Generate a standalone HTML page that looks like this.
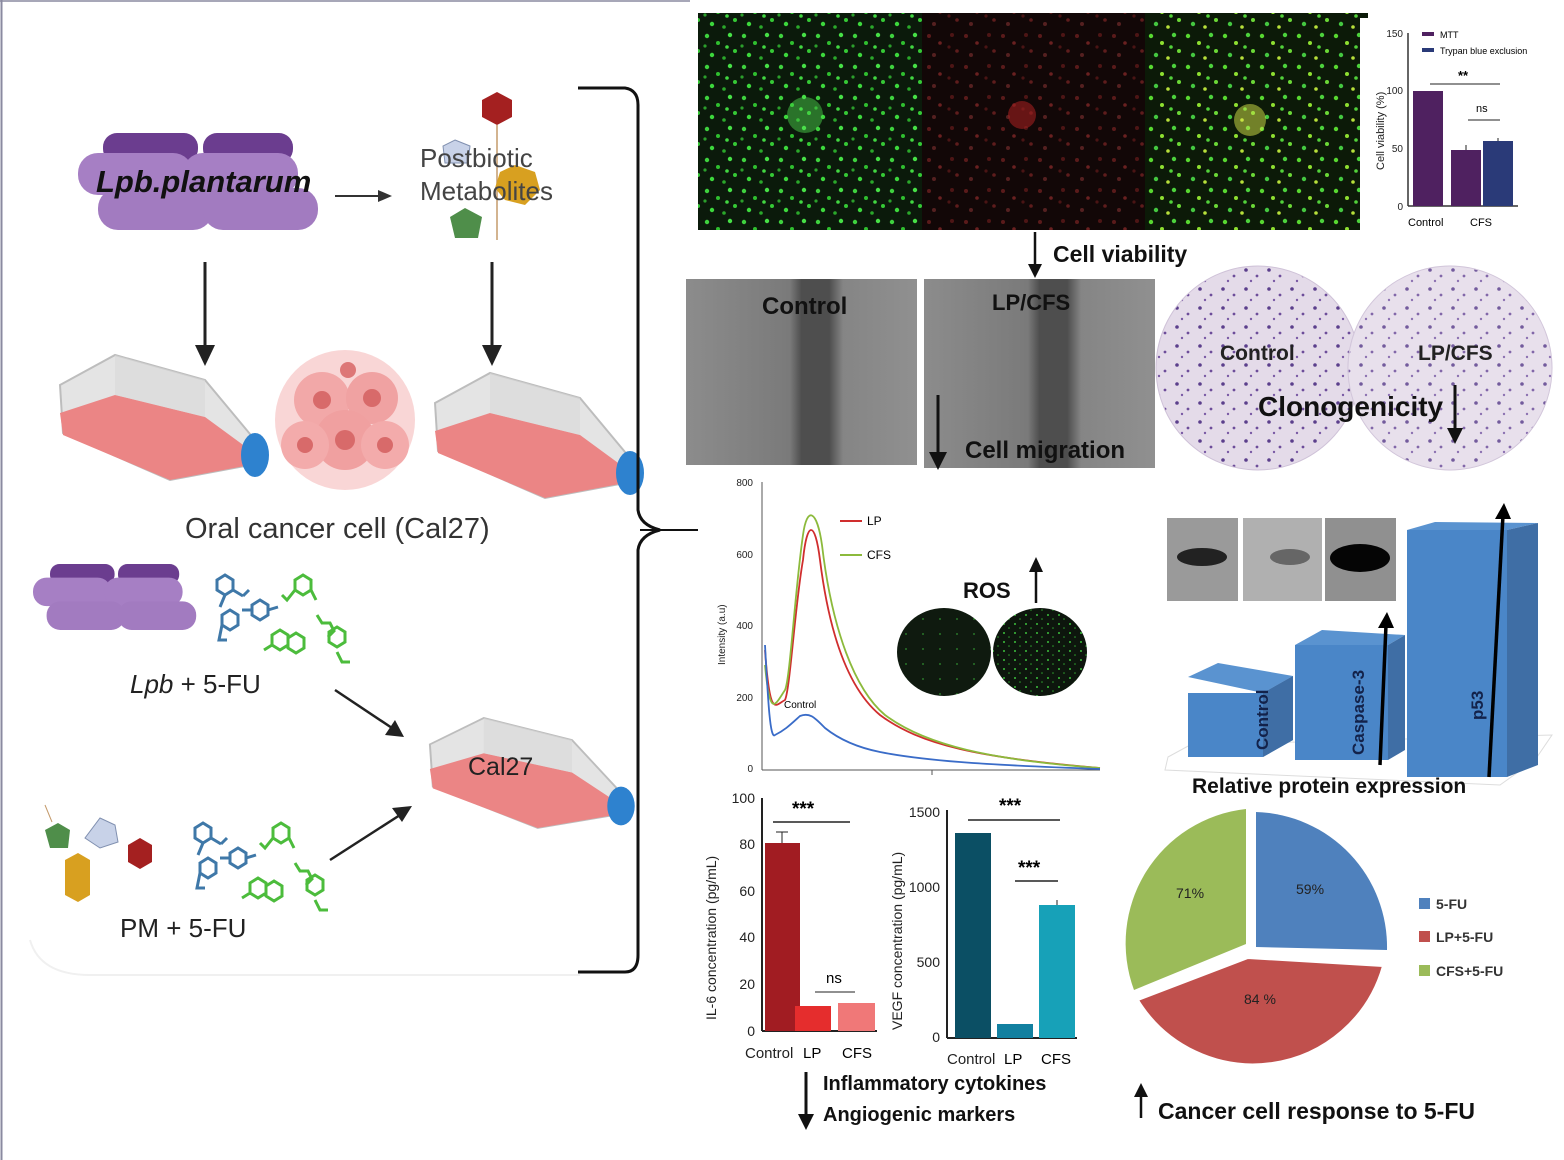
<!DOCTYPE html>
<html><head><meta charset="utf-8"><style>
html,body{margin:0;padding:0;background:#fff}
svg{display:block}
text{font-family:"Liberation Sans",sans-serif}
</style></head><body>
<svg width="1564" height="1160" viewBox="0 0 1564 1160" xmlns="http://www.w3.org/2000/svg">
<defs>
<pattern id="gdots" width="37" height="31" patternUnits="userSpaceOnUse">
<rect width="37" height="31" fill="#0b1a0b"/>
<circle cx="4" cy="5" r="2.2" fill="#3ed23e"/><circle cx="15" cy="12" r="2" fill="#2fbf2f"/><circle cx="27" cy="4" r="2.2" fill="#46e046"/><circle cx="32" cy="20" r="2" fill="#35c935"/><circle cx="9" cy="24" r="2.2" fill="#3cd83c"/><circle cx="21" cy="27" r="1.8" fill="#2aa82a"/><circle cx="24" cy="16" r="1.8" fill="#41d841"/><circle cx="2" cy="15" r="1.6" fill="#2b9f2b"/>
</pattern>
<pattern id="rdots" width="37" height="31" patternUnits="userSpaceOnUse">
<rect width="37" height="31" fill="#120707"/>
<circle cx="4" cy="5" r="2" fill="#5a1a1a"/><circle cx="15" cy="12" r="1.8" fill="#6a2020"/><circle cx="27" cy="4" r="2" fill="#4d1515"/><circle cx="32" cy="20" r="1.8" fill="#5e1c1c"/><circle cx="9" cy="24" r="2" fill="#552020"/><circle cx="24" cy="16" r="1.6" fill="#4a1414"/>
</pattern>
<pattern id="mdots" width="37" height="31" patternUnits="userSpaceOnUse">
<rect width="37" height="31" fill="#0c1a08"/>
<circle cx="4" cy="5" r="2.2" fill="#58d830"/><circle cx="15" cy="12" r="2" fill="#8ee030"/><circle cx="27" cy="4" r="2.2" fill="#4cd23c"/><circle cx="32" cy="20" r="2" fill="#6bd836"/><circle cx="9" cy="24" r="2.2" fill="#44c840"/><circle cx="21" cy="27" r="1.8" fill="#b7e03a"/><circle cx="24" cy="16" r="1.8" fill="#52d23a"/>
</pattern>
<pattern id="cdots" width="23" height="19" patternUnits="userSpaceOnUse">
<rect width="23" height="19" fill="#e4dbe9"/>
<circle cx="4" cy="4" r="1.8" fill="#5b3f8c"/><circle cx="15" cy="10" r="1.4" fill="#6d4d9a"/><circle cx="9" cy="15" r="1.2" fill="#7a5aa5"/>
</pattern>
<pattern id="rosd" width="11" height="9" patternUnits="userSpaceOnUse">
<rect width="11" height="9" fill="#0d160d"/><circle cx="3" cy="3" r="1" fill="#3cbf3c"/><circle cx="8" cy="7" r="0.8" fill="#2e9e2e"/>
</pattern>
<pattern id="rosd2" width="17" height="15" patternUnits="userSpaceOnUse">
<rect width="17" height="15" fill="#0f1a0f"/><circle cx="5" cy="4" r="0.9" fill="#2f8f2f"/>
</pattern>
<linearGradient id="wh" x1="0" x2="1"><stop offset="0" stop-color="#8c8c8c"/><stop offset="0.45" stop-color="#7a7a7a"/><stop offset="0.5" stop-color="#4e4e4e"/><stop offset="0.62" stop-color="#4e4e4e"/><stop offset="0.68" stop-color="#858585"/><stop offset="1" stop-color="#909090"/></linearGradient>
<g id="flask">
<polygon points="5,30 60,0 150,25 200,85 195,110 115,125 8,78" fill="#e4e4e4" stroke="#bdbdbd" stroke-width="2"/>
<polygon points="5,58 60,40 150,62 195,95 195,110 115,125 8,80" fill="#eb8585"/>
<polygon points="60,0 150,25 150,62 60,40" fill="#d8d8d8" opacity="0.6"/>
<ellipse cx="200" cy="100" rx="14" ry="22" fill="#2e82cf"/>
</g>
<g id="bact">
<rect x="25" y="0" width="95" height="30" rx="14" fill="#6b3d8f"/>
<rect x="125" y="0" width="90" height="30" rx="14" fill="#6b3d8f"/>
<rect x="0" y="20" width="115" height="42" rx="20" fill="#a67fc4"/>
<rect x="105" y="20" width="115" height="42" rx="20" fill="#a67fc4"/>
<rect x="20" y="55" width="115" height="42" rx="20" fill="#a27bc0"/>
<rect x="125" y="55" width="115" height="42" rx="20" fill="#a27bc0"/>
</g>
<g id="mols" fill="none" stroke-width="3">
<path d="M0,10 l8,-5 8,5 0,10 -8,5 -8,-5z M16,20 l10,6 M8,25 l-5,12 M26,26 l6,-6" stroke="#3f78a8"/>
<path d="M35,35 l8,-5 8,5 0,10 -8,5 -8,-5z M51,40 l10,-3 M25,40 l10,0" stroke="#3f78a8"/>
<path d="M5,45 l8,-5 8,5 0,10 -8,5 -8,-5z M5,55 l-3,15 l8,0" stroke="#3f78a8"/>
<path d="M78,10 l8,-5 8,5 0,10 -8,5 -8,-5z M78,20 l-8,10 -5,-5 M94,20 l5,10" stroke="#4cbc3c"/>
<path d="M55,65 l8,-5 8,5 0,10 -8,5 -8,-5z M71,68 l8,-5 8,5 0,10 -8,5 -8,-5z M55,75 l-8,5" stroke="#4cbc3c"/>
<path d="M100,45 l5,8 8,0 4,8 -6,6 M112,62 l8,-5 8,5 0,10 -8,5 -8,-5z M120,82 l5,10 8,0" stroke="#4cbc3c"/>
</g>
</defs>

<rect width="1564" height="1160" fill="#fff"/>
<!-- left border frame -->
<line x1="1.5" y1="0" x2="1.5" y2="1160" stroke="#8a8aa0" stroke-width="2"/>
<line x1="0" y1="1" x2="690" y2="1" stroke="#8a8aa0" stroke-width="1.5"/>
<path d="M30,940 Q40,975 90,975 L580,975" fill="none" stroke="#f0f0f0" stroke-width="2"/>

<!-- LEFT PANEL -->
<use href="#bact" transform="translate(78,133)"/>
<text x="96" y="192" font-size="31" font-style="italic" fill="#111" font-weight="bold">Lpb.plantarum</text>
<line x1="335" y1="196" x2="378" y2="196" stroke="#333" stroke-width="2"/>
<polygon points="392,196 378,190 378,202" fill="#333"/>
<!-- postbiotic shapes -->
<polygon points="497,92 512,100 512,117 497,125 482,117 482,100" fill="#a42020"/>
<line x1="497" y1="125" x2="497" y2="240" stroke="#c49a6a" stroke-width="1.5"/>
<polygon points="455,140 470,146 468,163 445,163 443,146" fill="#c8d2e8" stroke="#8090b0"/>
<polygon points="500,172 515,165 535,172 540,190 525,205 505,200 495,188" fill="#d8a020"/>
<polygon points="465,208 482,217 478,238 455,238 450,217" fill="#4f8e4a"/>
<text x="420" y="167" font-size="26" fill="#444">Postbiotic</text>
<text x="420" y="200" font-size="26" fill="#444">Metabolites</text>
<!-- down arrows -->
<line x1="205" y1="262" x2="205" y2="348" stroke="#222" stroke-width="3"/>
<polygon points="205,366 195,345 215,345" fill="#222"/>
<line x1="492" y1="262" x2="492" y2="348" stroke="#222" stroke-width="3"/>
<polygon points="492,366 482,345 502,345" fill="#222"/>
<use href="#flask" transform="translate(55,355)"/>
<use href="#flask" transform="translate(430,373)"/>
<!-- tumor cluster -->
<g>
<circle cx="345" cy="420" r="70" fill="#f6c4c4" opacity="0.7"/>
<circle cx="322" cy="400" r="28" fill="#f2a8a8"/><circle cx="372" cy="398" r="26" fill="#f0a2a2"/>
<circle cx="345" cy="440" r="30" fill="#f0a0a0"/><circle cx="305" cy="445" r="24" fill="#f3abab"/><circle cx="385" cy="445" r="24" fill="#f3abab"/>
<circle cx="322" cy="400" r="9" fill="#d86a6a"/><circle cx="372" cy="398" r="9" fill="#d86a6a"/><circle cx="345" cy="440" r="10" fill="#d86a6a"/><circle cx="305" cy="445" r="8" fill="#d86a6a"/><circle cx="385" cy="445" r="8" fill="#d86a6a"/><circle cx="348" cy="370" r="8" fill="#dd7777"/>
</g>
<text x="185" y="538" font-size="29" fill="#333">Oral cancer cell (Cal27)</text>
<!-- Lpb + 5FU -->
<g transform="translate(33,564) scale(0.68)"><use href="#bact"/></g>
<use href="#mols" transform="translate(217,570)"/>
<text x="130" y="693" font-size="26" fill="#222"><tspan font-style="italic">Lpb</tspan> + 5-FU</text>
<line x1="335" y1="690" x2="392" y2="728" stroke="#222" stroke-width="2.5"/>
<polygon points="404,737 385,735 395,720" fill="#222"/>
<use href="#flask" transform="translate(425,718) scale(0.98,0.88)"/>
<text x="468" y="775" font-size="25" fill="#222">Cal27</text>
<!-- PM + 5FU -->
<polygon points="45,830 58,823 70,830 68,848 50,848" fill="#4f8e4a"/>
<line x1="52" y1="822" x2="45" y2="805" stroke="#c49a6a"/>
<polygon points="65,860 78,853 90,860 90,877 78,884 65,877" fill="#d8a020"/>
<polygon points="65,877 78,870 90,877 90,895 78,902 65,895" fill="#d8a020"/>
<polygon points="100,818 115,825 118,842 100,848 85,838" fill="#c8d2e8" stroke="#8090b0"/>
<polygon points="128,845 140,838 152,845 152,862 140,869 128,862" fill="#a42020"/>
<use href="#mols" transform="translate(195,818)"/>
<text x="120" y="937" font-size="26" fill="#222">PM + 5-FU</text>
<line x1="330" y1="860" x2="400" y2="815" stroke="#222" stroke-width="2.5"/>
<polygon points="412,806 402,822 392,808" fill="#222"/>
<!-- bracket -->
<path d="M578,88 L625,88 Q638,90 638,105 L638,510 Q640,525 660,530 Q640,535 638,550 L638,955 Q638,972 625,972 L578,972" fill="none" stroke="#111" stroke-width="3"/>
<line x1="640" y1="530" x2="698" y2="530" stroke="#111" stroke-width="2"/>

<!-- MICROGRAPHS -->
<rect x="698" y="13" width="224" height="217" fill="url(#gdots)"/>
<rect x="922" y="13" width="223" height="217" fill="url(#rdots)"/>
<rect x="1145" y="13" width="223" height="217" fill="url(#mdots)"/>
<circle cx="805" cy="115" r="18" fill="#4fe04f" opacity="0.45"/>
<circle cx="1022" cy="115" r="14" fill="#a02020" opacity="0.6"/>
<circle cx="1250" cy="120" r="16" fill="#d8e84a" opacity="0.5"/>
<!-- viability chart -->
<rect x="1360" y="18" width="195" height="225" fill="#fff"/>
<line x1="1408" y1="33" x2="1408" y2="206" stroke="#333" stroke-width="1.5"/>
<line x1="1408" y1="206" x2="1518" y2="206" stroke="#333" stroke-width="1.5"/>
<g font-size="10" fill="#222" text-anchor="end"><text x="1403" y="37">150</text><text x="1403" y="94">100</text><text x="1403" y="152">50</text><text x="1403" y="210">0</text></g>
<text transform="translate(1384,170) rotate(-90)" font-size="11" fill="#222">Cell viability (%)</text>
<rect x="1413" y="91" width="30" height="115" fill="#4f2160"/>
<rect x="1451" y="150" width="30" height="56" fill="#4f2160"/>
<rect x="1483" y="141" width="30" height="65" fill="#2a3a78"/>
<line x1="1466" y1="150" x2="1466" y2="145" stroke="#222"/><line x1="1498" y1="141" x2="1498" y2="138" stroke="#222"/>
<line x1="1430" y1="84" x2="1500" y2="84" stroke="#222"/><text x="1458" y="80" font-size="13" font-weight="bold">**</text>
<line x1="1468" y1="120" x2="1500" y2="120" stroke="#222"/><text x="1476" y="112" font-size="11">ns</text>
<rect x="1422" y="32" width="12" height="4" fill="#4f2160"/><text x="1440" y="38" font-size="9">MTT</text>
<rect x="1422" y="48" width="12" height="4" fill="#2a3a78"/><text x="1440" y="54" font-size="9">Trypan blue exclusion</text>
<text x="1408" y="226" font-size="11">Control</text><text x="1470" y="226" font-size="11">CFS</text>
<!-- cell viability label -->
<line x1="1035" y1="232" x2="1035" y2="268" stroke="#111" stroke-width="2.5"/>
<polygon points="1035,278 1028,264 1042,264" fill="#111"/>
<text x="1053" y="262" font-size="23" font-weight="bold" fill="#111">Cell viability</text>

<!-- wound healing -->
<rect x="686" y="279" width="231" height="186" fill="url(#wh)"/>
<rect x="924" y="279" width="231" height="189" fill="url(#wh)"/>
<text x="762" y="314" font-size="24" font-weight="bold" fill="#111">Control</text>
<text x="992" y="310" font-size="22" font-weight="bold" fill="#111">LP/CFS</text>
<line x1="938" y1="395" x2="938" y2="455" stroke="#111" stroke-width="3"/>
<polygon points="938,470 929,452 947,452" fill="#111"/>
<text x="965" y="458" font-size="24" font-weight="bold" fill="#111">Cell migration</text>
<!-- colonies -->
<circle cx="1258" cy="368" r="102" fill="url(#cdots)" stroke="#cfc2d8"/>
<circle cx="1450" cy="368" r="102" fill="url(#cdots)" stroke="#cfc2d8"/>
<circle cx="1450" cy="368" r="102" fill="#fff" opacity="0.15"/>
<text x="1220" y="360" font-size="21" font-weight="bold" fill="#222">Control</text>
<text x="1418" y="360" font-size="21" font-weight="bold" fill="#222">LP/CFS</text>
<text x="1258" y="416" font-size="28" font-weight="bold" fill="#111">Clonogenicity</text>
<line x1="1455" y1="385" x2="1455" y2="432" stroke="#111" stroke-width="3"/>
<polygon points="1455,444 1447,428 1463,428" fill="#111"/>

<!-- line chart -->
<line x1="762" y1="482" x2="762" y2="770" stroke="#555"/>
<line x1="762" y1="770" x2="1100" y2="770" stroke="#555"/>
<g font-size="10" fill="#222" text-anchor="end"><text x="753" y="486">800</text><text x="753" y="558">600</text><text x="753" y="629">400</text><text x="753" y="701">200</text><text x="753" y="772">0</text></g>
<line x1="932" y1="770" x2="932" y2="775" stroke="#555"/>
<text transform="translate(725,665) rotate(-90)" font-size="10" fill="#222">Intensity (a.u)</text>
<path d="M765,650 C770,720 775,705 785,700 C790,690 795,605 803,560 C807,520 815,520 820,560 C830,640 850,690 880,715 C920,745 980,758 1100,768" fill="none" stroke="#d02e2e" stroke-width="1.8"/>
<path d="M765,665 C770,720 775,705 785,690 C790,680 795,590 803,535 C807,505 817,510 822,545 C832,630 855,690 885,715 C925,745 990,760 1100,768" fill="none" stroke="#8cba3c" stroke-width="1.8"/>
<path d="M765,645 C768,700 770,740 775,735 C785,730 790,725 800,716 C810,712 815,718 825,728 C840,740 860,748 880,752 C920,760 980,765 1100,769" fill="none" stroke="#3a6cc8" stroke-width="1.8"/>
<line x1="840" y1="521" x2="862" y2="521" stroke="#d02e2e" stroke-width="2"/><text x="867" y="525" font-size="12">LP</text>
<line x1="840" y1="555" x2="862" y2="555" stroke="#8cba3c" stroke-width="2"/><text x="867" y="559" font-size="12">CFS</text>
<text x="784" y="708" font-size="10">Control</text>
<text x="963" y="598" font-size="22" font-weight="bold" fill="#111">ROS</text>
<line x1="1036" y1="603" x2="1036" y2="568" stroke="#111" stroke-width="2.5"/>
<polygon points="1036,557 1029,572 1043,572" fill="#111"/>
<ellipse cx="944" cy="652" rx="47" ry="44" fill="url(#rosd2)"/>
<ellipse cx="1040" cy="652" rx="47" ry="44" fill="url(#rosd)"/>

<!-- western + 3D bars -->
<rect x="1167" y="518" width="71" height="83" fill="#9a9a9a"/>
<ellipse cx="1202" cy="557" rx="25" ry="9" fill="#222"/>
<rect x="1243" y="518" width="79" height="83" fill="#b0b0b0"/>
<ellipse cx="1290" cy="557" rx="20" ry="8" fill="#666"/>
<rect x="1325" y="518" width="71" height="83" fill="#909090"/>
<ellipse cx="1360" cy="558" rx="30" ry="14" fill="#050505"/>
<polygon points="1168,757 1190,745 1552,735 1535,760 1500,785 1165,770" fill="none" stroke="#ddd"/>
<polygon points="1188,677 1218,663 1293,676 1263,693" fill="#5a93d0"/>
<polygon points="1188,693 1263,693 1293,676 1293,740 1263,757 1188,757" fill="#4a86c8"/>
<polygon points="1263,693 1293,676 1293,740 1263,757" fill="#3f6ea5"/>
<polygon points="1295,645 1322,630 1405,635 1388,645" fill="#5a93d0"/>
<rect x="1295" y="645" width="93" height="115" fill="#4a86c8"/>
<polygon points="1388,645 1405,635 1405,750 1388,760" fill="#3f6ea5"/>
<polygon points="1407,530 1435,522 1538,523 1507,530" fill="#5a93d0"/>
<rect x="1407" y="530" width="100" height="247" fill="#4a86c8"/>
<polygon points="1507,530 1538,523 1538,765 1507,777" fill="#3f6ea5"/>
<text transform="translate(1268,750) rotate(-90)" font-size="17" font-weight="bold" fill="#13224a">Control</text>
<text transform="translate(1364,755) rotate(-90)" font-size="17" font-weight="bold" fill="#13224a">Caspase-3</text>
<text transform="translate(1483,720) rotate(-90)" font-size="17" font-weight="bold" fill="#13224a">p53</text>
<line x1="1380" y1="765" x2="1386" y2="625" stroke="#000" stroke-width="3.5"/>
<polygon points="1387,612 1378,628 1394,628" fill="#000"/>
<line x1="1489" y1="777" x2="1503" y2="515" stroke="#000" stroke-width="3.5"/>
<polygon points="1504,503 1495,519 1511,519" fill="#000"/>
<text x="1192" y="793" font-size="21" font-weight="bold" fill="#111">Relative protein expression</text>

<!-- IL-6 chart -->
<line x1="762" y1="798" x2="762" y2="1031" stroke="#222" stroke-width="2"/>
<line x1="762" y1="1031" x2="877" y2="1031" stroke="#222" stroke-width="2"/>
<g font-size="14" fill="#222" text-anchor="end"><text x="755" y="803">100</text><text x="755" y="849">80</text><text x="755" y="896">60</text><text x="755" y="942">40</text><text x="755" y="989">20</text><text x="755" y="1036">0</text></g>
<text transform="translate(716,1020) rotate(-90)" font-size="14" fill="#222">IL-6 concentration (pg/mL)</text>
<rect x="765" y="843" width="35" height="188" fill="#a11c22"/>
<line x1="782" y1="843" x2="782" y2="832" stroke="#222"/><line x1="776" y1="832" x2="788" y2="832" stroke="#222"/>
<rect x="795" y="1006" width="36" height="25" fill="#e52d2d"/>
<rect x="838" y="1003" width="37" height="28" fill="#f07878"/>
<line x1="773" y1="822" x2="850" y2="822" stroke="#222" stroke-width="1.5"/><text x="792" y="815" font-size="19" font-weight="bold">***</text>
<line x1="815" y1="992" x2="855" y2="992" stroke="#222"/><text x="826" y="983" font-size="15">ns</text>
<text x="745" y="1058" font-size="15" fill="#222">Control</text><text x="803" y="1058" font-size="15">LP</text><text x="842" y="1058" font-size="15">CFS</text>
<!-- VEGF chart -->
<line x1="947" y1="810" x2="947" y2="1038" stroke="#222" stroke-width="2"/>
<line x1="947" y1="1038" x2="1077" y2="1038" stroke="#222" stroke-width="2"/>
<g font-size="14" fill="#222" text-anchor="end"><text x="940" y="817">1500</text><text x="940" y="892">1000</text><text x="940" y="967">500</text><text x="940" y="1042">0</text></g>
<text transform="translate(902,1030) rotate(-90)" font-size="14" fill="#222">VEGF concentration (pg/mL)</text>
<rect x="955" y="833" width="36" height="205" fill="#0b4f64"/>
<rect x="997" y="1024" width="36" height="14" fill="#1280a0"/>
<rect x="1039" y="905" width="36" height="133" fill="#17a1b8"/>
<line x1="1057" y1="905" x2="1057" y2="900" stroke="#222"/>
<line x1="968" y1="820" x2="1060" y2="820" stroke="#222" stroke-width="1.5"/><text x="999" y="812" font-size="19" font-weight="bold">***</text>
<line x1="1015" y1="881" x2="1058" y2="881" stroke="#222" stroke-width="1.5"/><text x="1018" y="874" font-size="19" font-weight="bold">***</text>
<text x="947" y="1064" font-size="15" fill="#222">Control</text><text x="1004" y="1064" font-size="15">LP</text><text x="1041" y="1064" font-size="15">CFS</text>
<line x1="806" y1="1072" x2="806" y2="1118" stroke="#111" stroke-width="3"/>
<polygon points="806,1130 798,1114 814,1114" fill="#111"/>
<text x="823" y="1090" font-size="20" font-weight="bold" fill="#111">Inflammatory cytokines</text>
<text x="823" y="1121" font-size="20" font-weight="bold" fill="#111">Angiogenic markers</text>

<!-- pie -->
<path d="M1256,947 L1256,812 A135,135 0 0,1 1387,950 Z" fill="#4f81bd"/>
<path d="M1248,958 L1383,966 A135,135 0 0,1 1138,1000 Z" fill="#c0504d" stroke="#fff" stroke-width="2"/>
<path d="M1246,944 L1134,990 A135,135 0 0,1 1246,809 Z" fill="#9bbb59"/>
<text x="1296" y="894" font-size="14" fill="#222">59%</text>
<text x="1176" y="898" font-size="14" fill="#222">71%</text>
<text x="1244" y="1004" font-size="14" fill="#222">84 %</text>
<rect x="1419" y="898" width="11" height="11" fill="#4f81bd"/><text x="1436" y="909" font-size="14" font-weight="bold" fill="#333">5-FU</text>
<rect x="1419" y="931" width="11" height="11" fill="#c0504d"/><text x="1436" y="942" font-size="14" font-weight="bold" fill="#333">LP+5-FU</text>
<rect x="1419" y="965" width="11" height="11" fill="#9bbb59"/><text x="1436" y="976" font-size="14" font-weight="bold" fill="#333">CFS+5-FU</text>
<line x1="1141" y1="1118" x2="1141" y2="1092" stroke="#111" stroke-width="2.5"/>
<polygon points="1141,1083 1134,1097 1148,1097" fill="#111"/>
<text x="1158" y="1119" font-size="23" font-weight="bold" fill="#111">Cancer cell response to 5-FU</text>
</svg>
</body></html>
